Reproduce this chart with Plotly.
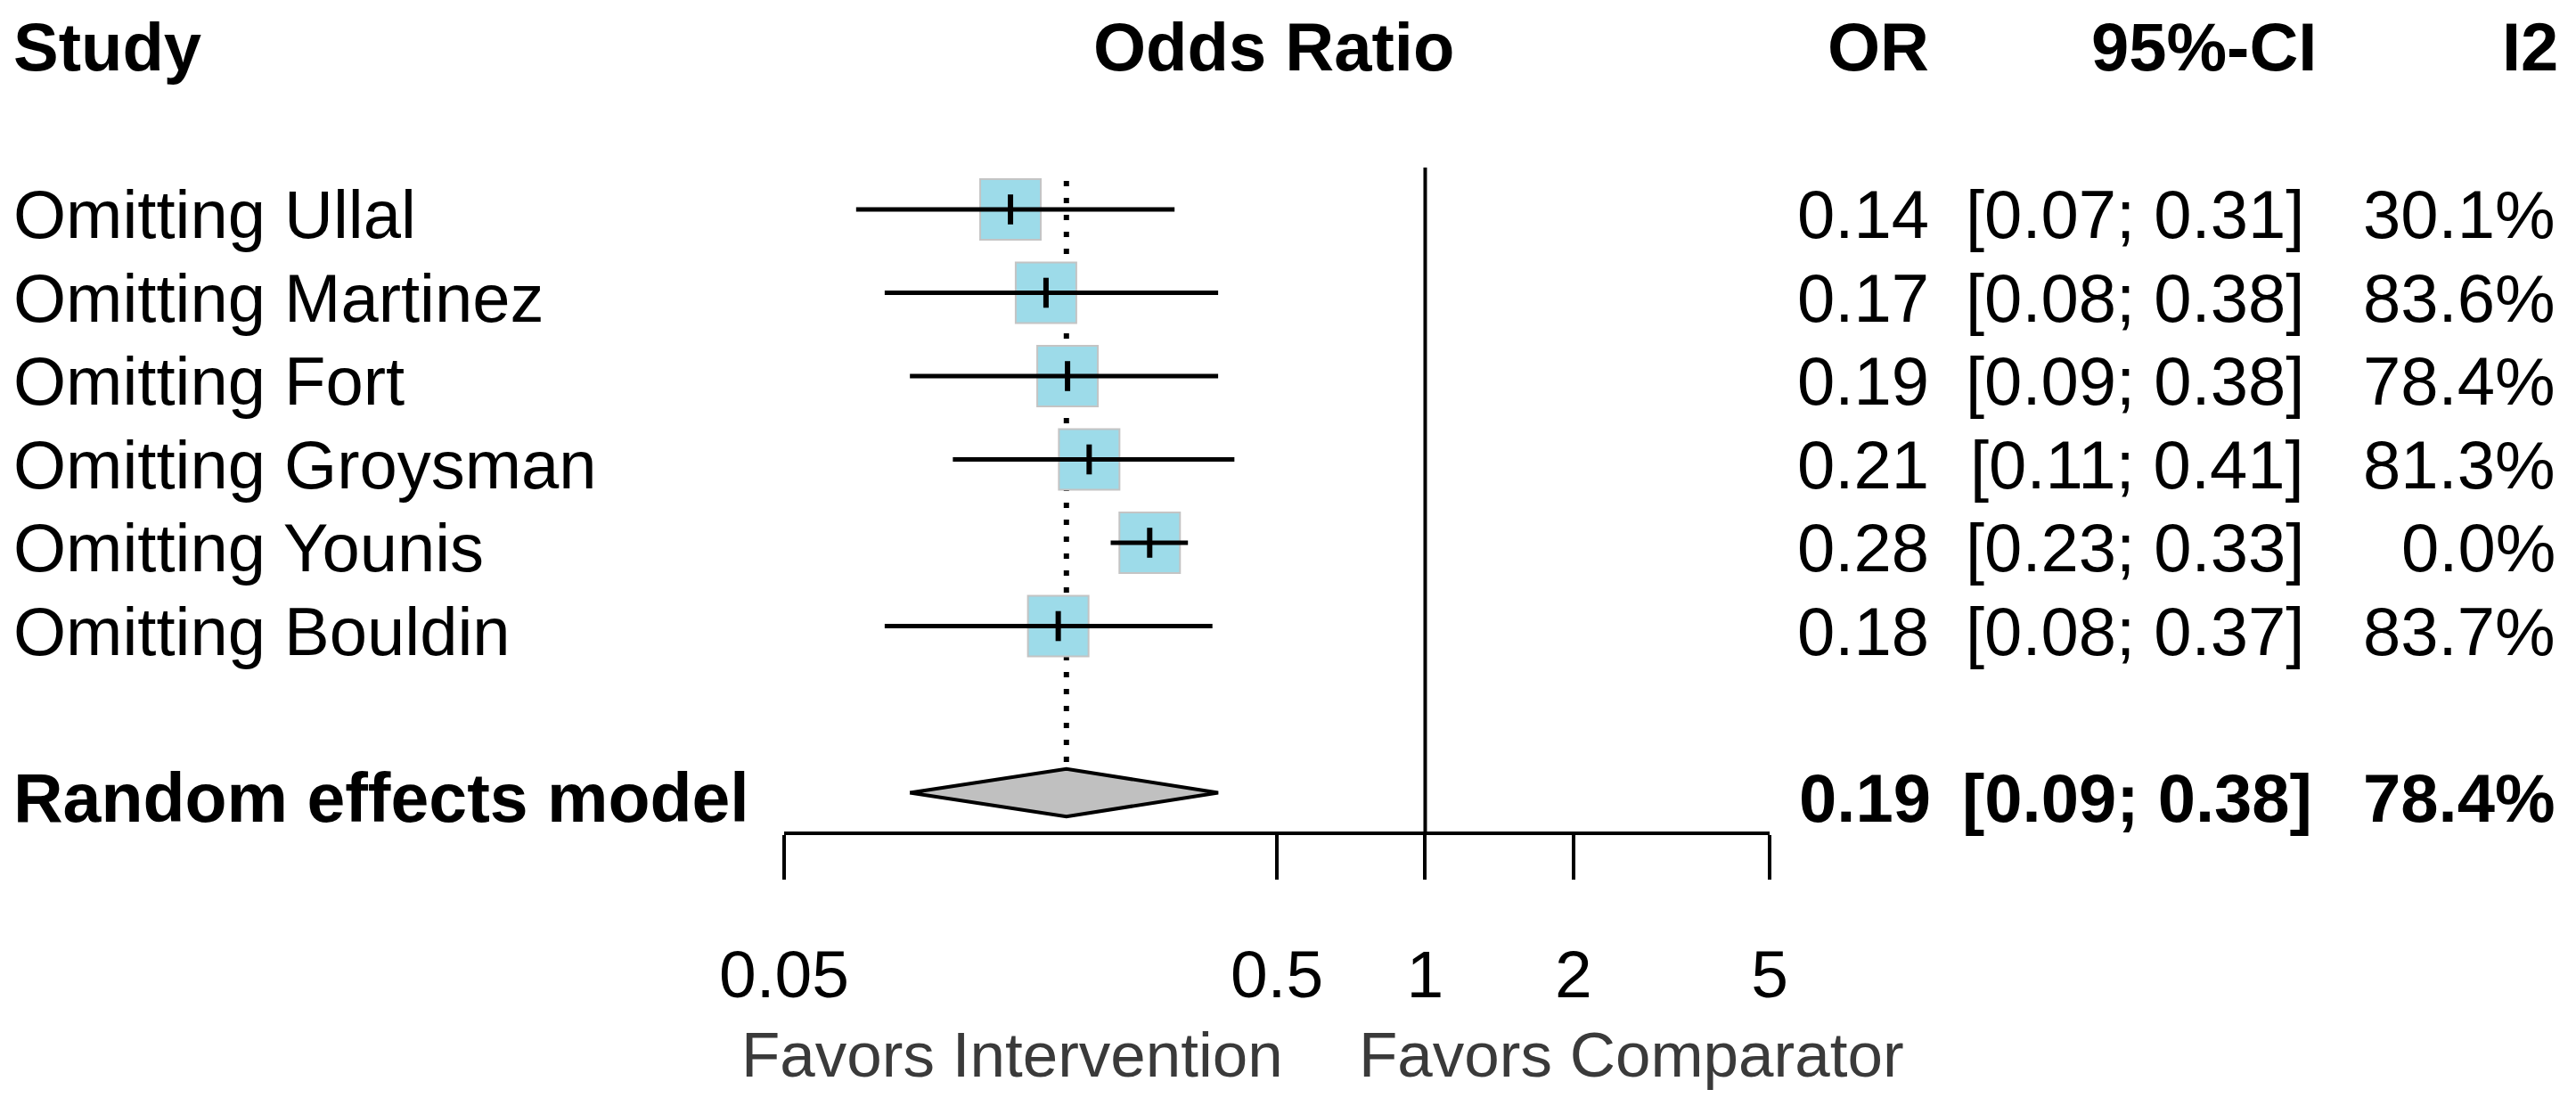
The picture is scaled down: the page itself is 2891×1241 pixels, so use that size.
import math
import plotly.graph_objects as go

# ---------------- data ----------------
studies = ["Omitting Ullal", "Omitting Martinez", "Omitting Fort",
           "Omitting Groysman", "Omitting Younis", "Omitting Bouldin"]
or_est = [0.144, 0.170, 0.188, 0.208, 0.276, 0.180]
ci_low = [0.07, 0.08, 0.09, 0.11, 0.23, 0.08]
ci_high = [0.31, 0.38, 0.38, 0.41, 0.33, 0.37]
i2 = [30.1, 83.6, 78.4, 81.3, 0.0, 83.7]

pooled_label = "Random effects model"
pooled_est = 0.187
pooled_low = 0.09
pooled_high = 0.38
pooled_i2 = 78.4

tick_vals = [0.05, 0.5, 1, 2, 5]
tick_text = ["0.05", "0.5", "1", "2", "5"]
headers = ["Study", "Odds Ratio", "OR", "95%-CI", "I2"]
label_left = "Favors Intervention"
label_right = "Favors Comparator"

# ---------------- layout geometry ----------------
W, H = 2891, 1241
ROW0, ROWH = 235.0, 93.5  # pixel y of row 0, pixel per row
def row_of(py):
    return (py - ROW0) / ROWH

y_bottom = row_of(H)
y_top = row_of(0)
pooled_row = 7
axis_row = row_of(935)

FONT = "Liberation Sans, Arial, sans-serif"
FS = 76

fig = go.Figure()

# dotted line at pooled estimate
fig.add_trace(go.Scatter(x=[pooled_est, pooled_est], y=[row_of(203), row_of(858)],
                         mode="lines", line=dict(color="black", width=6, dash="6px,13px"),
                         hoverinfo="skip", showlegend=False))
# null line
fig.add_trace(go.Scatter(x=[1, 1], y=[row_of(188), axis_row], mode="lines",
                         line=dict(color="black", width=4), hoverinfo="skip", showlegend=False))

rows = list(range(len(studies)))
# squares
fig.add_trace(go.Scatter(x=or_est, y=rows, mode="markers",
                         marker=dict(symbol="square", size=68, color="#9ddbe9",
                                     line=dict(color="#c4c4c4", width=2)),
                         hoverinfo="skip", showlegend=False))
# CI lines
for r, lo, hi in zip(rows, ci_low, ci_high):
    fig.add_trace(go.Scatter(x=[lo, hi], y=[r, r], mode="lines",
                             line=dict(color="black", width=5),
                             hoverinfo="skip", showlegend=False))
# estimate ticks
fig.add_trace(go.Scatter(x=or_est, y=rows, mode="markers",
                         marker=dict(symbol="line-ns", size=24,
                                     line=dict(color="black", width=6)),
                         hoverinfo="skip", showlegend=False))

# diamond
h = 0.285
fig.add_trace(go.Scatter(x=[pooled_low, pooled_est, pooled_high, pooled_est, pooled_low],
                         y=[pooled_row, pooled_row - h, pooled_row, pooled_row + h, pooled_row],
                         mode="lines", fill="toself", fillcolor="#c0c0c0",
                         line=dict(color="black", width=4),
                         hoverinfo="skip", showlegend=False))

ann = []
def txt(px, row, text, anchor, bold=False, size=FS, color="black"):
    ann.append(dict(x=px / W, xref="paper", y=row, yref="y", text=("<b>%s</b>" % text) if bold else text,
                    xanchor=anchor, yanchor="middle", showarrow=False,
                    font=dict(family=FONT, size=size, color=color)))

hdr_row = row_of(52)
txt(13, hdr_row, headers[0], "left", bold=True)
txt(1429, hdr_row, headers[1], "center", bold=True)
txt(2167, hdr_row, headers[2], "right", bold=True)
txt(2602, hdr_row, headers[3], "right", bold=True)
txt(2873, hdr_row, headers[4], "right", bold=True)

for r, s, e, lo, hi, q in zip(rows, studies, or_est, ci_low, ci_high, i2):
    yy = r + 0.06
    txt(13, yy, s, "left")
    txt(2167, yy, "%.2f" % e, "right")
    txt(2588, yy, "[%.2f; %.2f]" % (lo, hi), "right")
    txt(2870, yy, "%.1f%%" % q, "right")

yy = pooled_row + 0.06
txt(13, yy, pooled_label, "left", bold=True, size=77)
txt(2169, yy, "%.2f" % pooled_est, "right", bold=True)
txt(2597, yy, "[%.2f; %.2f]" % (pooled_low, pooled_high), "right", bold=True)
txt(2870, yy, "%.1f%%" % pooled_i2, "right", bold=True)

fav_row = row_of(1183)
txt(1442, fav_row, label_left, "right", size=71, color="#3a3a3a")
txt(1523, fav_row, label_right, "left", size=71, color="#3a3a3a")

fig.update_layout(
    width=W, height=H, margin=dict(l=0, r=0, t=0, b=0, pad=0, autoexpand=False),
    paper_bgcolor="white", plot_bgcolor="white",
    annotations=ann, showlegend=False,
    xaxis=dict(type="log", range=[math.log10(0.05), math.log10(5)],
               domain=[880 / W, 1986 / W], anchor="free", position=1 - 935 / H,
               showline=True, linewidth=4, linecolor="black",
               ticks="outside", ticklen=50, tickwidth=4, tickcolor="black",
               tickvals=tick_vals, ticktext=tick_text,
               tickfont=dict(family=FONT, size=75, color="black"),
               ticklabelstandoff=42, automargin=False,
               showgrid=False, zeroline=False, fixedrange=True),
    yaxis=dict(range=[y_bottom, y_top], domain=[0, 1], visible=False, automargin=False,
               showgrid=False, zeroline=False, fixedrange=True),
)

fig.write_html("out.html", config={"responsive": False, "displayModeBar": False},
               post_script="document.body.style.margin='0';")
